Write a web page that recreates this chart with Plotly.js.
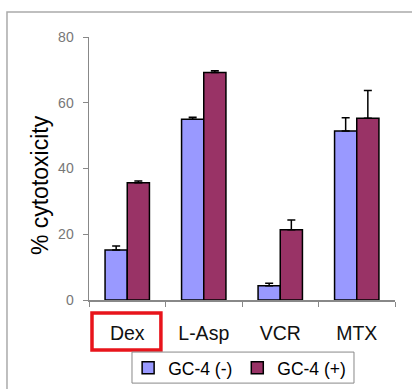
<!DOCTYPE html>
<html>
<head>
<script src="https://cdn.plot.ly/plotly-3.0.1.min.js"></script>
<style>html,body{margin:0;padding:0;background:#fff;}#chart{width:412px;height:389px;}</style>
</head>
<body>
<div id="chart"></div>
<script>
var categories = ["Dex", "L-Asp", "VCR", "MTX"];
var gcMinus = [15.2, 55.0, 4.3, 51.4];
var gcMinusErr = [1.2, 0.6, 0.8, 4.0];
var gcPlus = [35.7, 69.2, 21.4, 55.3];
var gcPlusErr = [0.5, 0.5, 2.9, 8.4];
var yTicks = [0, 20, 40, 60, 80];

var traces = [
  {type: "bar", name: "GC-4 (-)", x: categories, y: gcMinus,
   marker: {color: "#9999ff", line: {color: "#000", width: 1.5}},
   error_y: {type: "data", array: gcMinusErr, arrayminus: [0,0,0,0], symmetric: false, color: "#000", thickness: 1.5, width: 4}},
  {type: "bar", name: "GC-4 (+)", x: categories, y: gcPlus,
   marker: {color: "#993366", line: {color: "#000", width: 1.5}},
   error_y: {type: "data", array: gcPlusErr, arrayminus: [0,0,0,0], symmetric: false, color: "#000", thickness: 1.5, width: 4}}
];

var layout = {
  width: 412, height: 389,
  margin: {l: 89, r: 17, t: 37, b: 89, autoexpand: false},
  paper_bgcolor: "#fff", plot_bgcolor: "#fff",
  font: {family: "Liberation Sans, Arial, sans-serif", color: "#000"},
  barmode: "group", bargap: 0.42, bargroupgap: 0,
  showlegend: true,
  legend: {orientation: "h", xref: "container", yref: "container", x: 0.311, xanchor: "left", y: 0.1003, yanchor: "top",
           font: {size: 17.5, color: "#000"}, bgcolor: "rgba(0,0,0,0)", borderwidth: 0,
           itemwidth: 30, traceorder: "normal"},
  xaxis: {showline: true, linecolor: "#888", linewidth: 1.5, ticks: "outside", tickson: "boundaries",
          ticklen: 5, tickcolor: "#888", tickfont: {size: 19.5, color: "#111"}, ticklabelstandoff: 15,
          showgrid: false, zeroline: false, fixedrange: true},
  yaxis: {range: [0, 80], tickvals: yTicks, ticktext: yTicks.map(String), showline: true, linecolor: "#888",
          linewidth: 1.5, ticks: "outside", ticklen: 5, tickcolor: "#888", ticklabelstandoff: 6,
          tickfont: {size: 14, color: "#777"}, showgrid: false, zeroline: false, fixedrange: true},
  annotations: [
    {text: "% cytotoxicity", xref: "paper", yref: "paper", x: -0.16, y: 0.437, xanchor: "center", yanchor: "middle",
     textangle: -90, showarrow: false, font: {size: 23, color: "#000"}}
  ],
  shapes: [
    {type: "rect", xref: "paper", yref: "paper", x0: -0.268, x1: 1.3, y0: 1.095, y1: -0.6,
     line: {color: "#aaa", width: 1.5}, fillcolor: "rgba(0,0,0,0)", layer: "below"},
    {type: "rect", xref: "paper", yref: "paper", x0: 0.0098, x1: 0.235, y0: -0.049, y1: -0.19,
     line: {color: "#e8141b", width: 3.5}, fillcolor: "rgba(0,0,0,0)"},
    {type: "rect", xref: "paper", yref: "paper", x0: 0.1405, x1: 0.866, y0: -0.198, y1: -0.316,
     line: {color: "#888", width: 1}, fillcolor: "rgba(0,0,0,0)"}
  ]
};

Plotly.newPlot("chart", traces, layout, {displayModeBar: false, staticPlot: true});
</script>
</body>
</html>
